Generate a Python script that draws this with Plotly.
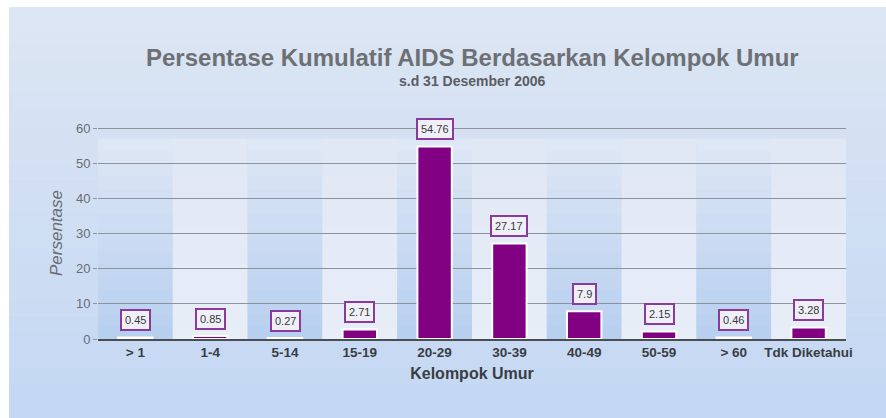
import plotly.graph_objects as go

categories = ["> 1", "1-4", "5-14", "15-19", "20-29", "30-39", "40-49", "50-59", "> 60", "Tdk Diketahui"]
values = [0.45, 0.85, 0.27, 2.71, 54.76, 27.17, 7.9, 2.15, 0.46, 3.28]
y_ticks = [0, 10, 20, 30, 40, 50, 60]

title_text = "Persentase Kumulatif AIDS Berdasarkan Kelompok Umur"
subtitle_text = "s.d 31 Desember 2006"

PURPLE = "#820082"
FONT = "Liberation Sans, Arial, sans-serif"

W, H = 886, 418
ML, MR, MT, MB = 98, 40, 127, 79
PW, PH = W - ML - MR, H - MT - MB


def px_to_paper_x(px):
    return (px - ML) / PW


def px_to_paper_y(py):
    return (H - MB - py) / PH


fig = go.Figure()

fig.add_trace(go.Bar(
    x=list(range(len(categories))), y=values,
    width=0.46,
    marker=dict(color=PURPLE, line=dict(color="white", width=2)),
    hoverinfo="x+y",
))

shapes = []
# page panel background (light blue gradient approximation)
n = 24
top_c = (221, 230, 244)
bot_c = (196, 216, 243)
p_top, p_bot, p_left, p_right = 7, 418, 9, 886
for i in range(n):
    t = i / (n - 1)
    c = tuple(int(top_c[k] + (bot_c[k] - top_c[k]) * t) for k in range(3))
    ya = p_top + i * (p_bot - p_top) / n
    yb = p_top + (i + 1) * (p_bot - p_top) / n
    shapes.append(dict(type="rect", xref="paper", yref="paper",
                       x0=px_to_paper_x(p_left), x1=px_to_paper_x(p_right),
                       y0=px_to_paper_y(yb + 0.5), y1=px_to_paper_y(ya),
                       fillcolor="rgb(%d,%d,%d)" % c, line=dict(width=0), layer="below"))

# alternating column bands with vertical gradient
m = 16
for idx in range(len(categories)):
    dark = idx % 2 == 0
    if dark:
        tc, bc = (222, 231, 245), (184, 208, 240)
    else:
        tc, bc = (225, 232, 245), (232, 238, 248)
    for j in range(m):
        t = j / (m - 1)
        c = tuple(int(tc[k] + (bc[k] - tc[k]) * t) for k in range(3))
        y1 = 57 - j * (57 / m)
        y0 = 57 - (j + 1) * (57 / m)
        shapes.append(dict(type="rect", xref="x", yref="y", x0=idx - 0.5, x1=idx + 0.5,
                           y0=max(y0 - 0.3, 0), y1=y1,
                           fillcolor="rgb(%d,%d,%d)" % c, line=dict(width=0), layer="below"))

annotations = []
for i, v in enumerate(values):
    annotations.append(dict(
        x=i, y=v, xref="x", yref="y", text=str(v), showarrow=False,
        yanchor="bottom", yshift=6,
        font=dict(family=FONT, size=11, color="#3a3a3a"),
        bgcolor="#efeff8", bordercolor="#8a3a9a", borderwidth=2, borderpad=3,
    ))

annotations.append(dict(x=0.5, y=1, xref="paper", yref="paper", yanchor="bottom", yshift=54,
                        text="<b>" + title_text + "</b>", showarrow=False,
                        font=dict(family=FONT, size=24, color="#6d7075")))
annotations.append(dict(x=0.5, y=1, xref="paper", yref="paper", yanchor="bottom", yshift=36,
                        text="<b>" + subtitle_text + "</b>", showarrow=False,
                        font=dict(family=FONT, size=14, color="#5a5d62")))

fig.update_layout(
    width=W, height=H,
    margin=dict(l=ML, r=MR, t=MT, b=MB),
    paper_bgcolor="white",
    plot_bgcolor="rgba(0,0,0,0)",
    showlegend=False,
    shapes=shapes,
    annotations=annotations,
    xaxis=dict(
        tickmode="array", tickvals=list(range(len(categories))),
        ticktext=["<b>" + c + "</b>" for c in categories],
        range=[-0.5, len(categories) - 0.5],
        tickfont=dict(family=FONT, size=13.5, color="#3a3d42"),
        showgrid=False, zeroline=False,
        showline=True, linecolor="#4a4d52", linewidth=2,
        ticks="",
        title=dict(text="<b>Kelompok Umur</b>", font=dict(family=FONT, size=16, color="#3a3d42"), standoff=9),
    ),
    yaxis=dict(
        range=[0, 60.3], tickvals=y_ticks,
        tickfont=dict(family=FONT, size=13, color="#6a6d72"),
        showgrid=True, gridcolor="#8c939c", gridwidth=1,
        zeroline=False, showline=False,
        ticks="outside", ticklen=4, tickcolor="#8c939c",
        title=dict(text="<i>Persentase</i>", font=dict(family=FONT, size=17, color="#6a6d72"), standoff=8),
    ),
)

fig.write_html("out.html", config={"displayModeBar": False},
               post_script="document.body.style.margin='0';document.body.style.padding='0';")
